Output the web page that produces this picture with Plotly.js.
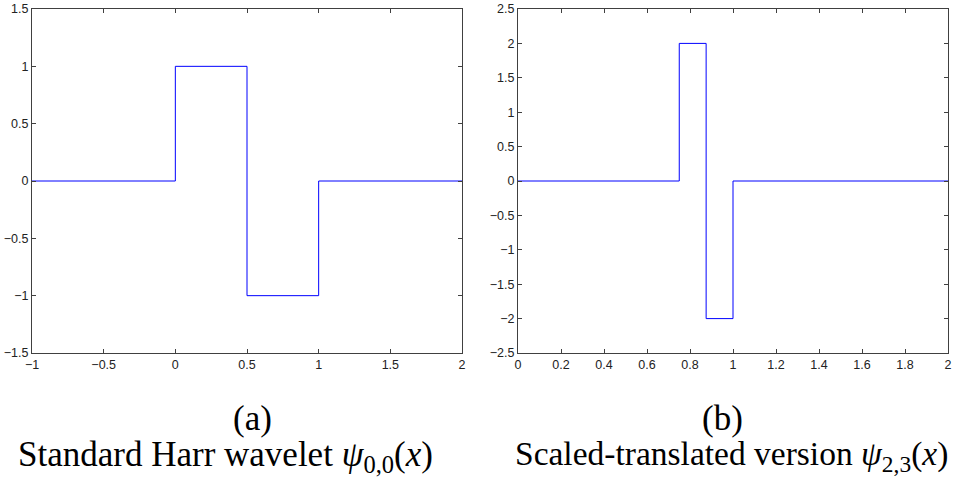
<!DOCTYPE html>
<html><head><meta charset="utf-8">
<script src="https://cdn.plot.ly/plotly-3.0.1.min.js"></script>
<style>html,body{margin:0;padding:0;background:#fff}#c{width:956px;height:477px}</style>
</head><body><div id="c"></div>
<script>
const xA = [-1, 0, 0, 0.5, 0.5, 1, 1, 2];
const yA = [0, 0, 1, 1, -1, -1, 0, 0];
const xB = [0, 0.75, 0.75, 0.875, 0.875, 1, 1, 2];
const yB = [0, 0, 2, 2, -2, -2, 0, 0];
const ticksAx = [-1, -0.5, 0, 0.5, 1, 1.5, 2];
const ticksAy = [-1.5, -1, -0.5, 0, 0.5, 1, 1.5];
const ticksBx = [0, 0.2, 0.4, 0.6, 0.8, 1, 1.2, 1.4, 1.6, 1.8, 2];
const ticksBy = [-2.5, -2, -1.5, -1, -0.5, 0, 0.5, 1, 1.5, 2, 2.5];
const captionA = ['(a)', 'Standard Harr wavelet <i>ψ</i><sub>0,0</sub>(<i>x</i>)'];
const captionB = ['(b)', 'Scaled-translated version <i>ψ</i><sub>2,3</sub>(<i>x</i>)'];

const W = 956, H = 477;
const line = {color: '#0000ff', width: 1};
const traces = [
  {x: xA, y: yA, type: 'scatter', mode: 'lines', line: line, xaxis: 'x', yaxis: 'y', hoverinfo: 'none'},
  {x: xB, y: yB, type: 'scatter', mode: 'lines', line: line, xaxis: 'x2', yaxis: 'y2', hoverinfo: 'none'}
];
const tickfont = {family: 'Liberation Sans, Arial, sans-serif', size: 12.5, color: '#222'};
function ax(extra) {
  return Object.assign({
    showgrid: false, zeroline: false, showline: true, linecolor: '#404040', linewidth: 1,
    mirror: 'allticks', ticks: 'inside', ticklen: 4, tickcolor: '#404040', tickwidth: 1,
    tickfont: tickfont, tickmode: 'array', fixedrange: true
  }, extra);
}
const ydom = [(H - 353) / H, (H - 9) / H];
const capFont = {family: 'Liberation Serif, serif', size: 35, color: '#000'};
const capFontB = {family: 'Liberation Serif, serif', size: 33.5, color: '#000'};
const layout = {
  width: W, height: H, margin: {l: 0, r: 0, t: 0, b: 0},
  paper_bgcolor: '#fff', plot_bgcolor: '#fff', showlegend: false,
  xaxis: ax({domain: [32 / W, 462 / W], range: [-1, 2], tickvals: ticksAx, anchor: 'y'}),
  yaxis: ax({domain: ydom, range: [-1.5, 1.5], tickvals: ticksAy, anchor: 'x'}),
  xaxis2: ax({domain: [518 / W, 948 / W], range: [0, 2], tickvals: ticksBx, anchor: 'y2'}),
  yaxis2: ax({domain: ydom, range: [-2.5, 2.5], tickvals: ticksBy, anchor: 'x2'}),
  annotations: [
    {text: captionA[0], x: 252 / W, y: 1 - 418 / H, xref: 'paper', yref: 'paper', showarrow: false, xanchor: 'center', yanchor: 'middle', font: capFont},
    {text: captionA[1], x: 225 / W, y: 1 - 456 / H, xref: 'paper', yref: 'paper', showarrow: false, xanchor: 'center', yanchor: 'middle', font: capFont},
    {text: captionB[0], x: 722 / W, y: 1 - 418 / H, xref: 'paper', yref: 'paper', showarrow: false, xanchor: 'center', yanchor: 'middle', font: capFont},
    {text: captionB[1], x: 731 / W, y: 1 - 456 / H, xref: 'paper', yref: 'paper', showarrow: false, xanchor: 'center', yanchor: 'middle', font: capFontB}
  ]
};
Plotly.newPlot('c', traces, layout, {displayModeBar: false, staticPlot: true});
</script>
</body></html>
